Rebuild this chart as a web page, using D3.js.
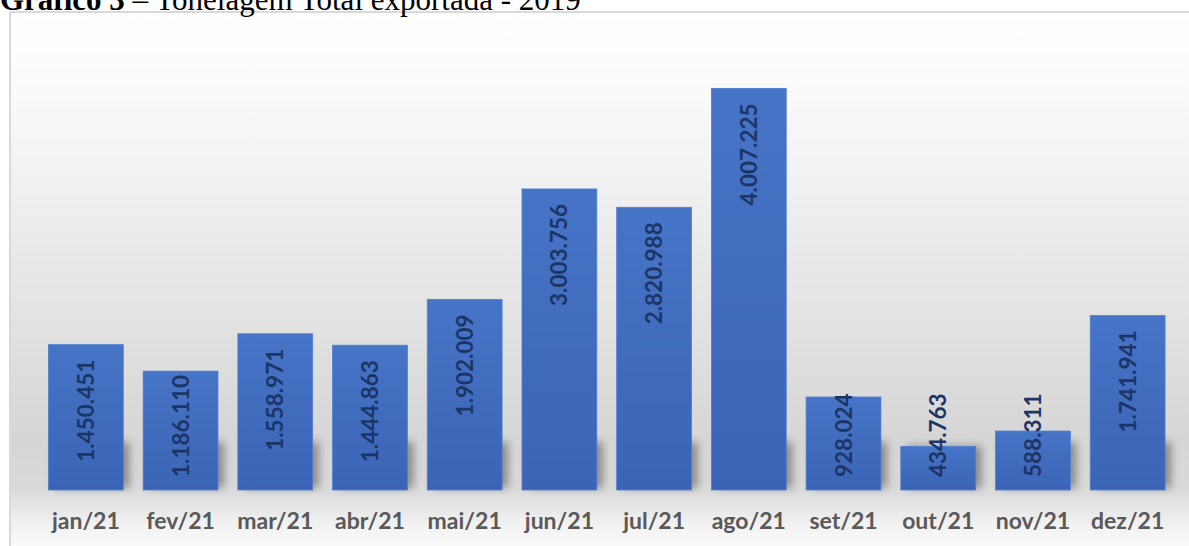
<!DOCTYPE html>
<html><head><meta charset="utf-8">
<script src="https://cdn.jsdelivr.net/npm/d3@7/dist/d3.min.js"></script>
<style>html,body{margin:0;padding:0;background:#fff;overflow:hidden}</style>
</head><body>
<svg id="c" width="1189" height="546"></svg>
<script>
const categories = ["jan/21","fev/21","mar/21","abr/21","mai/21","jun/21","jul/21","ago/21","set/21","out/21","nov/21","dez/21"];
const values = [1450451,1186110,1558971,1444863,1902009,3003756,2820988,4007225,928024,434763,588311,1741941];
const valueLabels = ["1.450.451","1.186.110","1.558.971","1.444.863","1.902.009","3.003.756","2.820.988","4.007.225","928.024","434.763","588.311","1.741.941"];
const titleBold = "Gráfico 3";
const titleRest = " – Tonelagem Total exportada - 2019";

const svg = d3.select("#c");
const W = 1189, H = 546;
const defs = svg.append("defs");

const bg = defs.append("linearGradient").attr("id","bg").attr("x1",0).attr("y1",0).attr("x2",0).attr("y2",1);
[[0,"#ffffff"],[0.15,"#fafafa"],[0.45,"#e9e9e9"],[0.78,"#d6d6d6"],[0.87,"#d9d9d9"],[0.94,"#f2f2f2"],[1,"#ffffff"]]
  .forEach(([o,c])=>bg.append("stop").attr("offset",o).attr("stop-color",c));

const bar = defs.append("linearGradient").attr("id","bar").attr("x1",0).attr("y1",0).attr("x2",0).attr("y2",1);
[[0,"#4674c6"],[1,"#3b64b6"]].forEach(([o,c])=>bar.append("stop").attr("offset",o).attr("stop-color",c));

defs.append("filter").attr("id","blur").attr("x","-50%").attr("y","-50%").attr("width","200%").attr("height","200%")
  .append("feGaussianBlur").attr("stdDeviation",4);

// frame + background
svg.append("rect").attr("x",10).attr("y",12).attr("width",W).attr("height",H)
  .attr("fill","url(#bg)").attr("stroke","#d9d9d9").attr("stroke-width",2);

// title
const t = svg.append("text").attr("x",0).attr("y",10)
  .attr("font-family","'Liberation Serif','Times New Roman',serif").attr("font-size",31).attr("fill","#000");
t.append("tspan").attr("font-weight","bold").text(titleBold);
t.append("tspan").text(titleRest);

const x = d3.scaleBand().domain(categories).range([38.5,1175]).paddingInner(0.21).paddingOuter(0.105);
const y = d3.scaleLinear().domain([0,4500000]).range([490,39]);
const base = y(0);

// shadows
svg.append("g").selectAll("rect").data(values).join("rect")
  .attr("x",(d,i)=>x(categories[i])+6)
  .attr("y",d=>Math.max(y(d), base-48))
  .attr("width",x.bandwidth())
  .attr("height",d=>base-2-Math.max(y(d), base-48))
  .attr("fill","#4a4a4a").attr("opacity",0.55).attr("filter","url(#blur)");

// bars
svg.append("g").selectAll("rect").data(values).join("rect")
  .attr("x",(d,i)=>x(categories[i]))
  .attr("y",d=>y(d))
  .attr("width",x.bandwidth())
  .attr("height",d=>base-y(d))
  .attr("fill","url(#bar)").attr("stroke","#4f7fd0").attr("stroke-width",0.8);

// value labels
const lbl = svg.append("g").selectAll("text").data(values).join("text")
  .attr("font-family","Lato,'Open Sans',sans-serif").attr("font-weight",700).attr("font-size",22.5)
  .attr("fill","#1c3566").attr("text-anchor","start")
  .text((d,i)=>valueLabels[i]);
lbl.each(function(d,i){
  const len = this.getComputedTextLength();
  const bottom = Math.min(y(d)+15+len, base-13);
  const cx = x(categories[i]) + x.bandwidth()/2 + 8;
  d3.select(this).attr("transform",`translate(${cx},${bottom}) rotate(-90)`);
});

// category axis labels
svg.append("g").selectAll("text").data(categories).join("text")
  .attr("x",d=>x(d)+x.bandwidth()/2).attr("y",529)
  .attr("text-anchor","middle")
  .attr("font-family","Lato,'Open Sans',sans-serif").attr("font-weight",700).attr("font-size",23)
  .attr("fill","#595959").text(d=>d);
</script>
</body></html>
